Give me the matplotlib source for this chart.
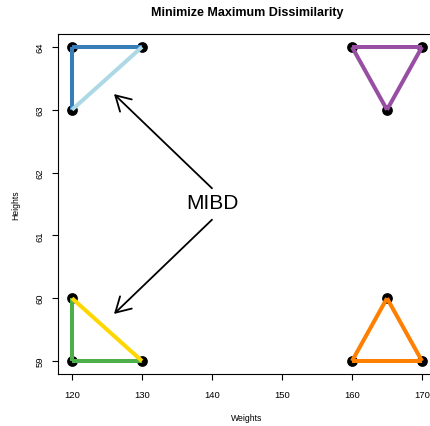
import matplotlib
matplotlib.use("Agg")
import matplotlib.pyplot as plt

plt.rcParams['font.family'] = ['Liberation Sans', 'DejaVu Sans']

# Points of the four clusters
weights = [120, 130, 120, 160, 170, 165, 120, 120, 130, 160, 170, 165]
heights = [64, 64, 63, 64, 64, 63, 60, 59, 59, 59, 59, 60]

# Edges between points (index pairs) and their colours
edges = [
    (0, 1, "#377EB8"), (0, 2, "#377EB8"), (2, 1, "#ADD8E6"),
    (3, 4, "#984EA3"), (4, 5, "#984EA3"), (5, 3, "#984EA3"),
    (6, 7, "#4DAF4A"), (7, 8, "#4DAF4A"), (6, 8, "#FFD700"),
    (9, 10, "#FF7F00"), (10, 11, "#FF7F00"), (11, 9, "#FF7F00"),
]

label_text = "MIBD"
label_pos = (140, 61.53)
arrow_starts = [(140, 61.75), (140, 61.25)]
arrow_tips = [(126, 63.25), (126, 59.75)]

x_ticks = [120, 130, 140, 150, 160, 170]
y_ticks = [59, 60, 61, 62, 63, 64]

W, H = 431, 427
fig = plt.figure(figsize=(W / 100, H / 100), dpi=100)
ax = fig.add_axes([58 / W, 52.4 / H, 378 / W, 339.2 / H])
ax.set_xlim(118, 172)
ax.set_ylim(58.8, 64.2)

ax.scatter(weights, heights, s=60, color="black", zorder=2, linewidths=0)
for i, j, c in edges:
    ax.plot([weights[i], weights[j]], [heights[i], heights[j]],
            color=c, lw=2.9, solid_capstyle="butt", zorder=3)

ax.text(label_pos[0], label_pos[1], label_text, fontsize=15,
        ha="center", va="center", zorder=4)
for s, t in zip(arrow_starts, arrow_tips):
    ax.annotate("", xy=t, xytext=s,
                arrowprops=dict(arrowstyle="->,head_length=1.06,head_width=0.61",
                                lw=1.3, color="black", shrinkA=0, shrinkB=0,
                                mutation_scale=10),
                zorder=4)

ax.set_xticks(x_ticks)
ax.set_yticks(y_ticks)
ax.tick_params(axis="both", direction="out", length=4.3, width=0.8,
               labelsize=6.8, color="black")
ax.tick_params(axis="x", pad=7.2)
ax.tick_params(axis="y", pad=5.5)
for lbl in ax.get_yticklabels():
    lbl.set_rotation(90)
    lbl.set_va("center")
for sp in ax.spines.values():
    sp.set_linewidth(0.8)

ax.set_xlabel("Weights", fontsize=6.2, labelpad=10.5)
ax.set_ylabel("Heights", fontsize=6.2, labelpad=11)
ax.set_title("Minimize Maximum Dissimilarity", fontsize=9, fontweight="bold", pad=14)

fig.savefig("out.png", dpi=100)
